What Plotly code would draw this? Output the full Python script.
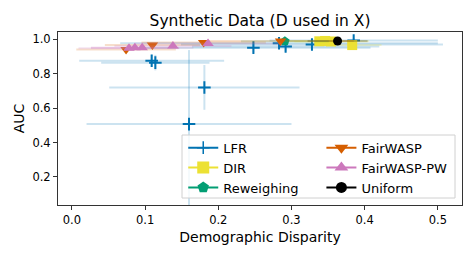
import plotly.graph_objects as go

# ---- data ----
lfr_x = [0.109, 0.114, 0.181, 0.160, 0.248, 0.283, 0.292, 0.328, 0.385]
lfr_y = [0.875, 0.864, 0.720, 0.507, 0.951, 0.977, 0.958, 0.969, 0.992]
lfr_xerr = [0.099, 0.074, 0.130, 0.140, 0.160, 0.217, 0.128, 0.179, 0.115]
lfr_yerr_up = [0.035, 0.045, 0.130, 0.430, 0.030, 0.020, 0.030, 0.020, 0.015]
lfr_yerr_dn = [0.035, 0.045, 0.130, 0.500, 0.030, 0.020, 0.030, 0.020, 0.015]

dir_x = [0.338, 0.346, 0.354, 0.383]
dir_y = [0.988, 0.990, 0.987, 0.966]
dir_xerr = [0.050, 0.060, 0.050, 0.040]
dir_yerr = [0.010, 0.010, 0.010, 0.010]

rew_x = [0.291]
rew_y = [0.988]
rew_xerr = [0.060]
rew_yerr = [0.010]

fw_x = [0.074, 0.110, 0.180, 0.285]
fw_y = [0.940, 0.966, 0.981, 0.990]
fw_xerr = [0.068, 0.065, 0.085, 0.100]
fw_yerr = [0.012, 0.010, 0.010, 0.008]

fwpw_x = [0.078, 0.086, 0.096, 0.138, 0.186]
fwpw_y = [0.948, 0.951, 0.950, 0.960, 0.975]
fwpw_xerr = [0.069, 0.060, 0.070, 0.080, 0.100]
fwpw_yerr = [0.010, 0.010, 0.010, 0.010, 0.010]

uni_x = [0.363]
uni_y = [0.990]
uni_xerr = [0.041]
uni_yerr = [0.005]

x_ticks = [0.0, 0.1, 0.2, 0.3, 0.4, 0.5]
y_ticks = [0.2, 0.4, 0.6, 0.8, 1.0]

FONT = "DejaVu Sans"
COL = {
    "LFR": (1, 115, 178),
    "DIR": (236, 225, 51),
    "Reweighing": (2, 158, 115),
    "FairWASP": (213, 94, 0),
    "FairWASP-PW": (204, 120, 188),
    "Uniform": (0, 0, 0),
}


def rgb(c, a=1.0):
    return f"rgba({c[0]},{c[1]},{c[2]},{a})"


# name, x, y, xerr, yerr+, yerr-, symbol, plot size, legend size, legend id
series = [
    ("LFR", lfr_x, lfr_y, lfr_xerr, lfr_yerr_up, lfr_yerr_dn, "cross-thin", 9, 9, "legend"),
    ("DIR", dir_x, dir_y, dir_xerr, dir_yerr, dir_yerr, "square", 10, 12, "legend"),
    ("Reweighing", rew_x, rew_y, rew_xerr, rew_yerr, rew_yerr, "pentagon", 10, 12, "legend"),
    ("FairWASP", fw_x, fw_y, fw_xerr, fw_yerr, fw_yerr, "triangle-down", 10, 12, "legend2"),
    ("FairWASP-PW", fwpw_x, fwpw_y, fwpw_xerr, fwpw_yerr, fwpw_yerr, "triangle-up", 10, 12, "legend2"),
    ("Uniform", uni_x, uni_y, uni_xerr, uni_yerr, uni_yerr, "circle", 9, 11, "legend2"),
]

fig = go.Figure()
for name, xs, ys, xe, yu, yd, sym, size, lsize, leg in series:
    c = COL[name]
    marker = dict(symbol=sym, size=size, color=rgb(c))
    if sym == "cross-thin":
        marker["line"] = dict(color=rgb(c), width=2)
    else:
        marker["line"] = dict(width=0)
    fig.add_trace(go.Scatter(
        x=xs, y=ys, mode="markers", marker=marker, showlegend=False,
        error_x=dict(type="data", array=xe, color=rgb(c, 0.2), thickness=2, width=0),
        error_y=dict(type="data", array=yu, arrayminus=yd, symmetric=False,
                     color=rgb(c, 0.2), thickness=2, width=0),
    ))

for name, xs, ys, xe, yu, yd, sym, size, lsize, leg in series:
    c = COL[name]
    marker = dict(symbol=sym, size=lsize, color=rgb(c))
    if sym == "cross-thin":
        marker["line"] = dict(color=rgb(c), width=1.5)
    else:
        marker["line"] = dict(width=0)
    fig.add_trace(go.Scatter(
        x=[None], y=[None], mode="lines+markers", name=name,
        marker=marker, line=dict(color=rgb(c), width=2),
        legend=leg, legendgroup=name,
    ))

axis_common = dict(
    showline=True, mirror=True, linecolor="#333333", linewidth=1,
    ticks="outside", ticklen=4, tickcolor="#333333", tickwidth=1,
    showgrid=False, zeroline=False, automargin=False,
    tickfont=dict(family=FONT, size=11.5, color="#000000"),
)

legend_common = dict(
    font=dict(family=FONT, size=13, color="#000000"),
    bgcolor="rgba(0,0,0,0)", borderwidth=0,
    xanchor="left", yanchor="top", tracegroupgap=0,
    itemsizing="trace",
)

# page body has an 8px default margin: figure sized 467x251 to fill the window
W, H = 467, 251
fig.update_layout(
    width=W, height=H,
    margin=dict(l=50, r=13, t=24, b=54, autoexpand=False),
    paper_bgcolor="white", plot_bgcolor="white",
    font=dict(family=FONT, color="#000000"),
    title=dict(text="Synthetic Data (D used in X)", x=0.5, xref="paper",
               y=1 - 13 / H, yref="container", yanchor="middle",
               font=dict(family=FONT, size=15.5, color="#000000")),
    xaxis=dict(range=[-0.019, 0.533], tickvals=x_ticks, tickformat=".1f",
               title=dict(text="Demographic Disparity", standoff=6,
                          font=dict(family=FONT, size=14)),
               **axis_common),
    yaxis=dict(range=[0.037, 1.042], tickvals=y_ticks, tickformat=".1f",
               title=dict(text="AUC", standoff=4,
                          font=dict(family=FONT, size=14)),
               **axis_common),
    legend=dict(x=0.31, y=0.418, **legend_common),
    legend2=dict(x=0.652, y=0.418, **legend_common),
    shapes=[dict(type="rect", xref="paper", yref="paper",
                 x0=(182 - 58) / 404, x1=(455 - 58) / 404,
                 y0=(205 - 198) / 173, y1=(205 - 135) / 173,
                 line=dict(color="#d0d0d0", width=1),
                 fillcolor="rgba(255,255,255,0.8)", layer="above")],
)

fig.write_html("out.html")
